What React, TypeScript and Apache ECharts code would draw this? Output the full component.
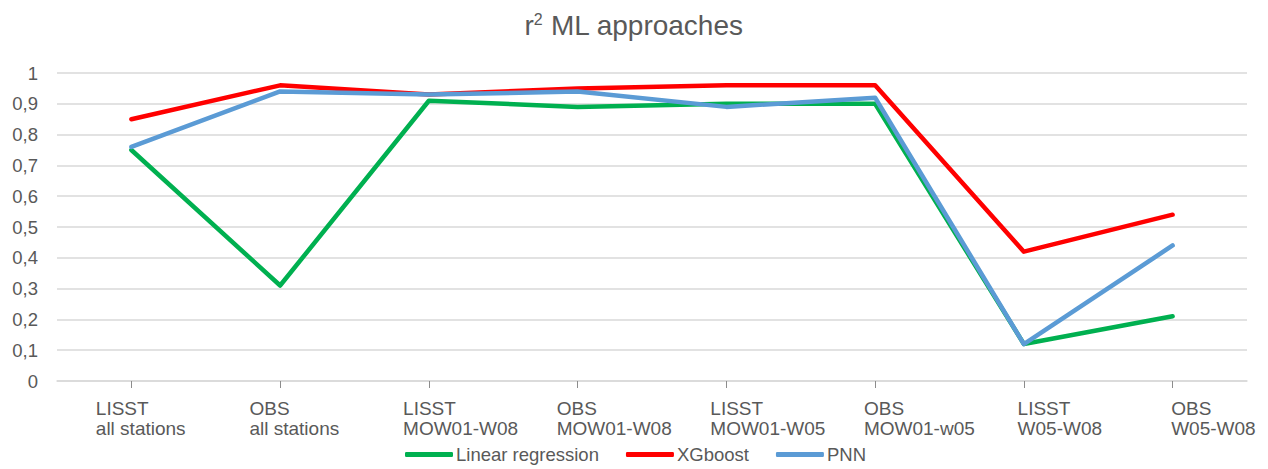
import React, { useEffect, useRef } from "react";
import * as echarts from "echarts";

const categories = [
  ["LISST", "all stations"],
  ["OBS", "all stations"],
  ["LISST", "MOW01-W08"],
  ["OBS", "MOW01-W08"],
  ["LISST", "MOW01-W05"],
  ["OBS", "MOW01-w05"],
  ["LISST", "W05-W08"],
  ["OBS", "W05-W08"],
];
const seriesNames = ["Linear regression", "XGboost", "PNN"];
const linearRegression = [0.75, 0.31, 0.91, 0.89, 0.9, 0.9, 0.12, 0.21];
const xgboost = [0.85, 0.96, 0.93, 0.95, 0.96, 0.96, 0.42, 0.54];
const pnn = [0.76, 0.94, 0.93, 0.94, 0.89, 0.92, 0.12, 0.44];

const FONT = "'Liberation Sans', Arial, sans-serif";
const GREY = "#595959";

export default function App() {
  const ref = useRef<HTMLDivElement>(null);
  useEffect(() => {
    if (!ref.current) return;
    const chart = echarts.init(ref.current, undefined, { renderer: "svg" });
    const mk = (name: string, data: number[], color: string) => ({
      name,
      type: "line",
      xAxisIndex: 0,
      yAxisIndex: 0,
      data,
      symbol: "none",
      lineStyle: { width: 4.5, color, cap: "round", join: "round" },
      itemStyle: { color },
    });
    const catLabels = categories.map((c) => c.join("\n"));
    chart.setOption({
      animation: false,
      backgroundColor: "#fff",
      title: {
        text: "r{sup|2} ML approaches",
        left: "center",
        top: 6,
        textStyle: {
          fontFamily: FONT,
          fontSize: 28,
          fontWeight: "normal",
          color: GREY,
          rich: {
            sup: {
              fontFamily: FONT,
              fontSize: 16,
              color: GREY,
              verticalAlign: "top",
              padding: [0, 0, 12, 0],
            },
          },
        },
      },
      legend: {
        top: 445,
        left: 405,
        padding: 0,
        icon: "roundRect",
        itemWidth: 48,
        itemHeight: 5,
        itemGap: 27,
        textStyle: { fontFamily: FONT, fontSize: 18.5, color: GREY, padding: [0, 0, 0, -2] },
        data: seriesNames,
      },
      grid: [
        { left: 57, right: 21, top: 73, bottom: 88, containLabel: false },
        { left: 19, right: 20, top: 73, bottom: 88, containLabel: false },
      ],
      xAxis: [
        {
          type: "category",
          gridIndex: 0,
          data: catLabels,
          boundaryGap: true,
          axisLine: { lineStyle: { color: "#d9d9d9", width: 1.5 } },
          axisTick: {
            show: true,
            alignWithLabel: true,
            length: 7,
            lineStyle: { color: "#8c8c8c", width: 1 },
          },
          axisLabel: { show: false },
        },
        {
          type: "category",
          gridIndex: 1,
          data: catLabels,
          boundaryGap: true,
          axisLine: { show: false },
          axisTick: { show: false },
          axisLabel: {
            interval: 0,
            margin: 17,
            align: "left",
            color: GREY,
            fontFamily: FONT,
            fontSize: 19,
            formatter: (v: string) =>
              v
                .split("\n")
                .map((s) => `{a|${s}}`)
                .join("\n"),
            rich: {
              a: { align: "left", fontFamily: FONT, fontSize: 19, color: GREY, lineHeight: 20.5 },
            },
          },
        },
      ],
      yAxis: [
        {
          type: "value",
          gridIndex: 0,
          min: 0,
          max: 1,
          interval: 0.1,
          axisLine: { show: false },
          axisTick: { show: false },
          splitLine: { lineStyle: { color: "#d9d9d9", width: 1.5 } },
          axisLabel: {
            margin: 19,
            color: GREY,
            fontFamily: FONT,
            fontSize: 18.5,
            formatter: (v: number) => (Math.round(v * 10) / 10).toString().replace(".", ","),
          },
        },
        {
          type: "value",
          gridIndex: 1,
          min: 0,
          max: 1,
          show: false,
        },
      ],
      series: [
        mk(seriesNames[0], linearRegression, "#00B050"),
        mk(seriesNames[1], xgboost, "#FF0000"),
        mk(seriesNames[2], pnn, "#5B9BD5"),
      ],
    });
    return () => chart.dispose();
  }, []);
  return (
    <div
      ref={ref}
      style={{ position: "absolute", left: 0, top: 0, width: 1268, height: 469 }}
    />
  );
}
